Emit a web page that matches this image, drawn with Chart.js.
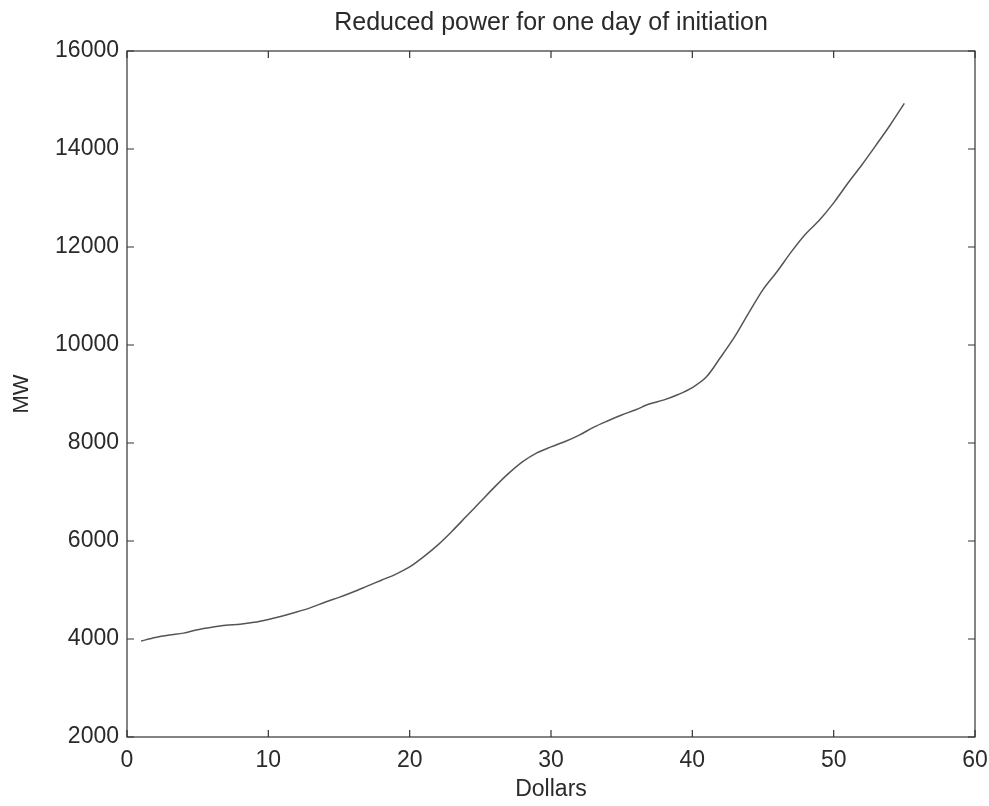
<!DOCTYPE html>
<html>
<head>
<meta charset="utf-8">
<script src="https://cdn.jsdelivr.net/npm/chart.js@4/dist/chart.umd.min.js"></script>
<style>
  html, body { margin: 0; padding: 0; background: #fff; }
  #wrap { width: 989px; height: 806px; }
</style>
</head>
<body>
<div id="wrap"><canvas id="powerChart"></canvas></div>
<script>
// values
const dollars = [1, 2, 3, 4, 5, 6, 7, 8, 9, 10, 11, 12, 13, 14, 15, 16, 17, 18, 19, 20,
  21, 22, 23, 24, 25, 26, 27, 28, 29, 30, 31, 32, 33, 34, 35, 36, 37, 38, 39, 40,
  41, 42, 43, 44, 45, 46, 47, 48, 49, 50, 51, 52, 53, 54, 55];
const megawatts = [3960, 4030, 4080, 4120, 4190, 4240, 4280, 4300, 4340, 4400,
  4470, 4550, 4640, 4750, 4850, 4960, 5080, 5200, 5320, 5470,
  5680, 5920, 6200, 6500, 6800, 7100, 7380, 7620, 7800, 7920,
  8030, 8160, 8320, 8450, 8570, 8680, 8800, 8880, 8990, 9130,
  9350, 9750, 10170, 10660, 11130, 11500, 11900, 12260, 12550, 12900,
  13300, 13680, 14080, 14490, 14930];
const xTicks = [0, 10, 20, 30, 40, 50, 60];
const yTicks = [2000, 4000, 6000, 8000, 10000, 12000, 14000, 16000];

const chartTitle = "Reduced power for one day of initiation";
const xLabel = "Dollars";
const yLabel = "MW";

const fontFamily = "'Liberation Sans', Arial, Helvetica, sans-serif";
const inkColor = "#2a2a2a";

// title centred over the plot box, like the original figure
const titlePlugin = {
  id: "plotTitle",
  afterDraw(chart) {
    const ctx = chart.ctx;
    const area = chart.chartArea;
    ctx.save();
    ctx.fillStyle = inkColor;
    ctx.font = "25px " + fontFamily;
    ctx.textAlign = "center";
    ctx.textBaseline = "middle";
    ctx.fillText(chartTitle, (area.left + area.right) / 2, 23);
    ctx.restore();
  },
};

// MATLAB style frame with inward ticks on all four sides
const framePlugin = {
  id: "frame",
  afterDraw(chart) {
    const ctx = chart.ctx;
    const area = chart.chartArea;
    const xs = chart.scales.x;
    const ys = chart.scales.y;
    const len = 7;
    ctx.save();
    ctx.strokeStyle = "#333";
    ctx.lineWidth = 1.2;
    ctx.strokeRect(area.left, area.top, area.right - area.left, area.bottom - area.top);
    ctx.beginPath();
    xs.ticks.forEach((t) => {
      const px = xs.getPixelForValue(t.value);
      ctx.moveTo(px, area.bottom);
      ctx.lineTo(px, area.bottom - len);
      ctx.moveTo(px, area.top);
      ctx.lineTo(px, area.top + len);
    });
    ys.ticks.forEach((t) => {
      const py = ys.getPixelForValue(t.value);
      ctx.moveTo(area.left, py);
      ctx.lineTo(area.left + len, py);
      ctx.moveTo(area.right, py);
      ctx.lineTo(area.right - len, py);
    });
    ctx.stroke();
    ctx.restore();
  },
};

document.addEventListener("DOMContentLoaded", function () {
  const ctx = document.getElementById("powerChart").getContext("2d");

  const points = dollars.map((d, i) => ({ x: d, y: megawatts[i] }));

  new Chart(ctx, {
    type: "line",
    data: {
      datasets: [
        {
          data: points,
          borderColor: "#555",
          borderWidth: 1.5,
          pointRadius: 0,
          tension: 0.3,
          fill: false,
        },
      ],
    },
    options: {
      responsive: true,
      maintainAspectRatio: false,
      animation: false,
      layout: { padding: { left: 0, right: 14, top: 51, bottom: 0 } },
      plugins: {
        legend: { display: false },
        tooltip: { enabled: false },
        title: { display: false },
      },
      scales: {
        x: {
          type: "linear",
          min: 0,
          max: 60,
          afterBuildTicks: (scale) => {
            scale.ticks = xTicks.map((v) => ({ value: v }));
          },
          afterFit: (scale) => {
            scale.height = 69;
            scale.paddingLeft = 0;
            scale.paddingRight = 0;
          },
          grid: { display: false, drawTicks: false },
          border: { display: false },
          ticks: {
            color: inkColor,
            padding: 10,
            maxRotation: 0,
            callback: (v) => String(v),
            font: { family: fontFamily, size: 23 },
          },
          title: {
            display: true,
            text: xLabel,
            color: inkColor,
            font: { family: fontFamily, size: 23 },
            padding: { top: 0, bottom: 3 },
          },
        },
        y: {
          type: "linear",
          min: 2000,
          max: 16000,
          afterBuildTicks: (scale) => {
            scale.ticks = yTicks.map((v) => ({ value: v }));
          },
          afterFit: (scale) => {
            scale.width = 127;
            scale.paddingTop = 0;
            scale.paddingBottom = 0;
          },
          grid: { display: false, drawTicks: false },
          border: { display: false },
          ticks: {
            color: inkColor,
            padding: 8,
            callback: (v) => String(v),
            font: { family: fontFamily, size: 23 },
          },
          title: {
            display: true,
            text: yLabel,
            color: inkColor,
            font: { family: fontFamily, size: 22 },
            padding: { top: 9, bottom: 0 },
          },
        },
      },
    },
    plugins: [framePlugin, titlePlugin],
  });
});
</script>
</body>
</html>
